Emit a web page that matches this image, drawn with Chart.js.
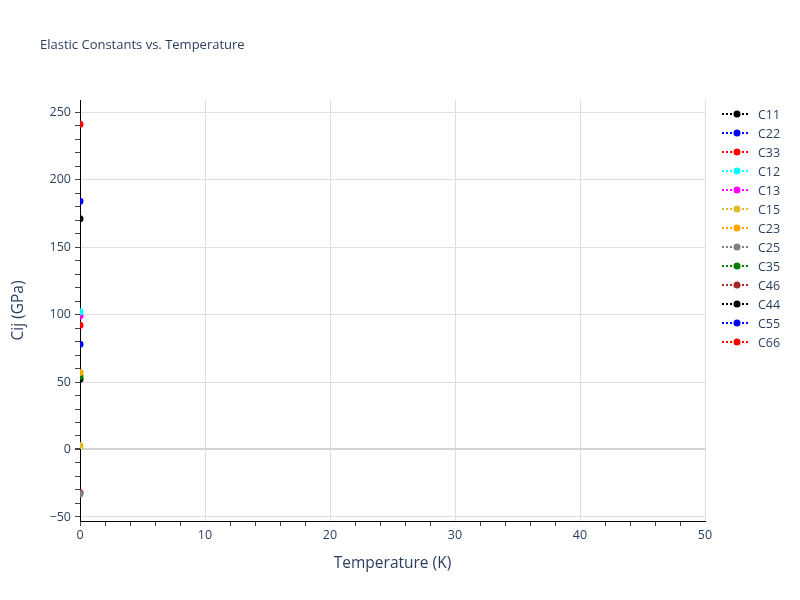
<!DOCTYPE html>
<html lang="en">
<head>
    <meta charset="UTF-8">
    <title>Elastic Constants vs. Temperature</title>
    <script src="https://cdn.jsdelivr.net/npm/chart.js"></script>
    <style>
        html, body {
            margin: 0;
            padding: 0;
            background: #fff;
        }

        #wrap {
            width: 800px;
            height: 600px;
        }
    </style>
</head>
<body>
    <div id="wrap"><canvas id="cij-chart" width="800" height="600"></canvas></div>

    <script>
        // Data: one point per constant, all at T = 0 K
        const seriesNames = ['C11', 'C22', 'C33', 'C12', 'C13', 'C15', 'C23', 'C25', 'C35', 'C46', 'C44', 'C55', 'C66'];
        const seriesColors = ['black', 'blue', 'red', 'cyan', 'magenta', '#e3bb2a', 'orange', 'grey', 'green', 'brown', 'black', 'blue', 'red'];
        const temperatureK = [0];
        const cijGPa = [171, 184, 241, 102, 99, 3, 57, -33, 54, -32, 52, 78, 92];

        const xTicksLabelled = [0, 10, 20, 30, 40, 50];
        const yTicksLabelled = [-50, 0, 50, 100, 150, 200, 250];

        const textColor = '#2a3f5f';
        const fontFamily = '"Open Sans", Verdana, Arial, sans-serif';

        // Little dotted-line + dot icon, same as the legend symbol in the picture
        function legendIcon(color) {
            const c = document.createElement('canvas');
            c.width = 28;
            c.height = 8;
            const g = c.getContext('2d');
            g.strokeStyle = color;
            g.lineWidth = 2;
            g.setLineDash([2, 2]);
            g.beginPath();
            g.moveTo(0, 4);
            g.lineTo(28, 4);
            g.stroke();
            g.fillStyle = color;
            g.beginPath();
            g.arc(15, 4, 3.5, 0, Math.PI * 2);
            g.fill();
            return c;
        }

        // Title and legend drawn in the free space around the plot
        const titleAndLegend = {
            id: 'titleAndLegend',
            afterDraw(chart) {
                const ctx = chart.ctx;
                ctx.save();
                ctx.textBaseline = 'middle';
                ctx.textAlign = 'left';
                ctx.fillStyle = textColor;
                ctx.font = '13px ' + fontFamily;
                ctx.fillText('Elastic Constants vs. Temperature', 40, 45);

                ctx.font = '12.5px ' + fontFamily;
                chart.data.datasets.forEach((ds, i) => {
                    const y = 114 + i * 19;
                    ctx.drawImage(legendIcon(ds.borderColor), 722, y - 4);
                    ctx.fillStyle = textColor;
                    ctx.fillText(ds.label, 758, y + 1);
                });
                ctx.restore();
            }
        };

        const datasets = seriesNames.map((name, i) => ({
            label: name,
            data: temperatureK.map(t => ({ x: t, y: cijGPa[i] })),
            borderColor: seriesColors[i],
            backgroundColor: seriesColors[i],
            borderDash: [2, 2],
            borderWidth: 2,
            pointRadius: 3.5,
            pointBorderWidth: 0,
            showLine: true,
        }));

        const ctx = document.getElementById('cij-chart').getContext('2d');
        new Chart(ctx, {
            type: 'scatter',
            data: { datasets: datasets },
            options: {
                responsive: false,
                animation: false,
                layout: { padding: { top: 100, right: 95, left: 0, bottom: 0 } },
                plugins: {
                    legend: { display: false },
                    title: { display: false },
                    tooltip: { enabled: false },
                },
                scales: {
                    x: {
                        type: 'linear',
                        min: 0,
                        max: 50,
                        afterFit: scale => { scale.height = 79; },
                        border: { color: '#000', width: 1 },
                        grid: {
                            color: c => (xTicksLabelled.includes(c.tick.value) && c.tick.value !== 0) ? '#dedede' : 'rgba(0,0,0,0)',
                            tickColor: c => (xTicksLabelled.includes(c.tick.value) && c.tick.value !== 0) ? 'rgba(0,0,0,0)' : '#444',
                            tickLength: 5,
                            lineWidth: 1,
                        },
                        ticks: {
                            stepSize: 2,
                            autoSkip: false,
                            maxRotation: 0,
                            includeBounds: false,
                            padding: 2,
                            color: textColor,
                            font: { family: fontFamily, size: 12.5 },
                            callback: v => xTicksLabelled.includes(v) ? String(v) : '',
                        },
                        title: {
                            display: true,
                            text: 'Temperature (K)',
                            color: textColor,
                            font: { family: fontFamily, size: 15.5 },
                            padding: { top: 4, bottom: 27 },
                        },
                    },
                    y: {
                        type: 'linear',
                        min: -53,
                        max: 259,
                        afterFit: scale => { scale.width = 80; },
                        border: { color: '#000', width: 1 },
                        grid: {
                            color: c => c.tick.value === 0 ? '#d4d4d4' : (yTicksLabelled.includes(c.tick.value) ? '#dedede' : 'rgba(0,0,0,0)'),
                            lineWidth: c => c.tick.value === 0 ? 2 : 1,
                            tickColor: '#444',
                            tickLength: 5,
                        },
                        ticks: {
                            stepSize: 10,
                            autoSkip: false,
                            includeBounds: false,
                            padding: 4,
                            color: textColor,
                            font: { family: fontFamily, size: 12.5 },
                            callback: v => yTicksLabelled.includes(v) ? String(v).replace('-', '\u2212') : '',
                        },
                        title: {
                            display: true,
                            text: 'Cij (GPa)',
                            color: textColor,
                            font: { family: fontFamily, size: 15.5 },
                            padding: { top: 9, bottom: 4 },
                        },
                    },
                },
            },
            plugins: [titleAndLegend],
        });
    </script>
</body>
</html>
